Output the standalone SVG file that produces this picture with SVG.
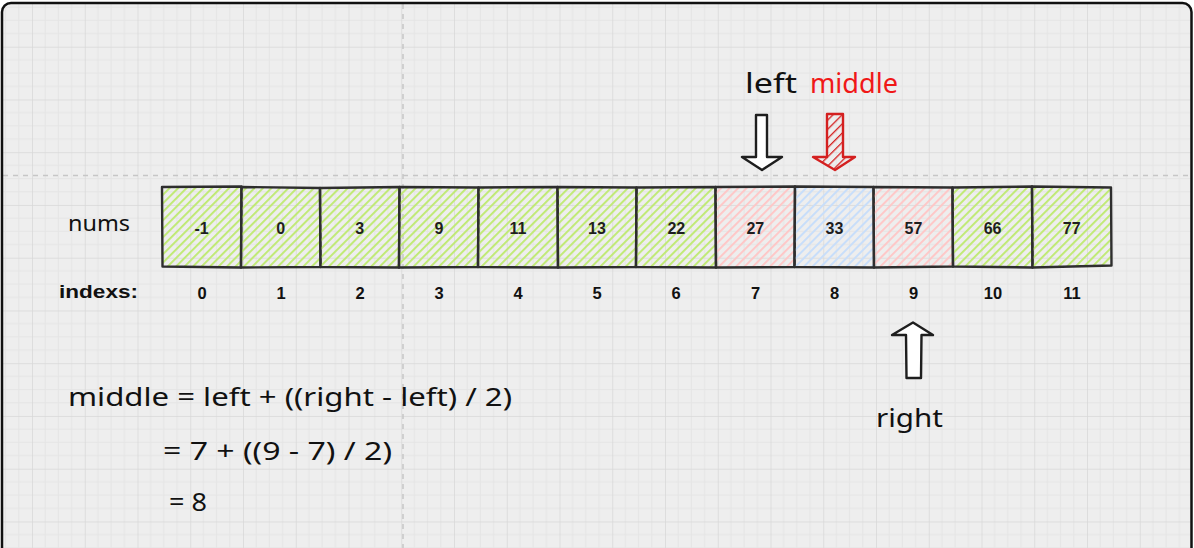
<svg xmlns="http://www.w3.org/2000/svg" width="1194" height="548" viewBox="0 0 1194 548">
<defs>
<pattern id="grid" patternUnits="userSpaceOnUse" x="32" y="46.7" width="52.75" height="52.75">
<rect width="52.75" height="52.75" fill="#eeeeee"/>
<g stroke="#e5e5e5" stroke-width="1">
<line x1="13.19" y1="0" x2="13.19" y2="52.75"/>
<line x1="26.37" y1="0" x2="26.37" y2="52.75"/>
<line x1="39.56" y1="0" x2="39.56" y2="52.75"/>
<line x1="0" y1="13.19" x2="52.75" y2="13.19"/>
<line x1="0" y1="26.37" x2="52.75" y2="26.37"/>
<line x1="0" y1="39.56" x2="52.75" y2="39.56"/>
</g>
<g stroke="#d8d8d8" stroke-width="1.5">
<line x1="0" y1="0" x2="0" y2="52.75"/>
<line x1="0" y1="0" x2="52.75" y2="0"/>
</g>
</pattern>
<pattern id="hGreen" patternUnits="userSpaceOnUse" width="6" height="6" patternTransform="rotate(45)">
<line x1="0" y1="0" x2="0" y2="6" stroke="#bfea72" stroke-width="3.8"/>
</pattern>
<pattern id="hPink" patternUnits="userSpaceOnUse" width="6" height="6" patternTransform="rotate(45)">
<line x1="0" y1="0" x2="0" y2="6" stroke="#ffc6c6" stroke-width="3.8"/>
</pattern>
<pattern id="hBlue" patternUnits="userSpaceOnUse" width="6" height="6" patternTransform="rotate(45)">
<line x1="0" y1="0" x2="0" y2="6" stroke="#c8defa" stroke-width="4"/>
</pattern>
<pattern id="hRed" patternUnits="userSpaceOnUse" width="6.5" height="6.5" patternTransform="rotate(45)">
<line x1="0" y1="0" x2="0" y2="6.5" stroke="#d42020" stroke-width="2.6"/>
</pattern>
</defs>
<style>
.cell{stroke:#2e2e2e;stroke-width:2.4;stroke-linejoin:round}
.g{fill:url(#hGreen)}
.p{fill:url(#hPink)}
.b{fill:url(#hBlue)}
.val{font-family:"Liberation Sans",Arial,sans-serif;font-size:16px;font-weight:bold;fill:#1e1e1e;text-anchor:middle}
.idx{font-family:"Liberation Sans",Arial,sans-serif;font-size:16.5px;font-weight:bold;fill:#111;text-anchor:middle}
.hand{font-family:"Noto Sans","DejaVu Sans",sans-serif;fill:#111}
.guide{stroke:#c6c6c6;stroke-width:1.5;stroke-dasharray:5 5;fill:none}
</style>
<rect x="0" y="0" width="1194" height="548" fill="#ffffff"/>
<rect x="2" y="3" width="1189.5" height="570" rx="9" fill="url(#grid)"/>
<line class="guide" x1="403" y1="4" x2="403" y2="548"/>
<line class="guide" x1="3" y1="175.5" x2="1191" y2="175.5"/>
<rect x="2" y="3" width="1189.5" height="570" rx="9" fill="none" stroke="#111" stroke-width="2.5"/>

<g id="labels">
<text class="hand" x="68" y="231" font-size="21" textLength="62" lengthAdjust="spacingAndGlyphs">nums</text>
<text x="59" y="298" font-family="'Liberation Sans',Arial,sans-serif" font-size="18" font-weight="bold" fill="#111" textLength="79" lengthAdjust="spacingAndGlyphs">indexs:</text>
</g>

<g id="cells">
<g id="cell0"><path class="cell g" d="M162,187 L241.5,186.5 L241,267.5 L162.5,266.5 Z"/><text class="val" x="201.5" y="233.5">-1</text></g>
<g id="cell1"><path class="cell g" d="M241.5,187 L320,188 L320.5,267 L241,267.5 Z"/><text class="val" x="280.7" y="233.5">0</text></g>
<g id="cell2"><path class="cell g" d="M320,188 L399.5,187 L399,267.5 L320.5,267 Z"/><text class="val" x="359.8" y="233.5">3</text></g>
<g id="cell3"><path class="cell g" d="M399.5,187 L478.5,187.5 L478,267 L399,267.5 Z"/><text class="val" x="438.9" y="233.5">9</text></g>
<g id="cell4"><path class="cell g" d="M478.5,187.5 L557.5,187 L558,267.5 L478,267 Z"/><text class="val" x="518" y="233.5">11</text></g>
<g id="cell5"><path class="cell g" d="M557.5,187 L636.5,187.5 L636,267 L558,267.5 Z"/><text class="val" x="597" y="233.5">13</text></g>
<g id="cell6"><path class="cell g" d="M636.5,187.5 L715.5,187 L716,267.5 L636,267 Z"/><text class="val" x="676.3" y="233.5">22</text></g>
<g id="cell7"><path class="cell p" d="M715.5,187 L795,186.5 L794.5,267 L716,267.5 Z"/><text class="val" x="755.3" y="233.5">27</text></g>
<g id="cell8"><path class="cell b" d="M795,186.5 L873.5,187 L874,267.5 L794.5,267 Z"/><text class="val" x="834.4" y="233.5">33</text></g>
<g id="cell9"><path class="cell p" d="M873.5,187 L952.5,187.5 L953,266.5 L874,267.5 Z"/><text class="val" x="913.5" y="233.5">57</text></g>
<g id="cell10"><path class="cell g" d="M952.5,187.5 L1032,186.5 L1032.5,267.5 L953,266.5 Z"/><text class="val" x="992.6" y="233.5">66</text></g>
<g id="cell11"><path class="cell g" d="M1032,186.5 L1111,187.5 L1111.5,265.5 L1032.5,267.5 Z"/><text class="val" x="1071.7" y="233.5">77</text></g>
</g>

<g id="indexes">
<text class="idx" x="202" y="298.5">0</text>
<text class="idx" x="281" y="298.5">1</text>
<text class="idx" x="360" y="298.5">2</text>
<text class="idx" x="439" y="298.5">3</text>
<text class="idx" x="518" y="298.5">4</text>
<text class="idx" x="597" y="298.5">5</text>
<text class="idx" x="676" y="298.5">6</text>
<text class="idx" x="755.5" y="298.5">7</text>
<text class="idx" x="834.5" y="298.5">8</text>
<text class="idx" x="913.5" y="298.5">9</text>
<text class="idx" x="993" y="298.5">10</text>
<text class="idx" x="1072" y="298.5">11</text>
</g>

<g id="left-pointer">
<text class="hand" x="745" y="93" font-size="28" textLength="52" lengthAdjust="spacingAndGlyphs">left</text>
<path d="M756,115 L767,115 L767,157 L782,157 L762,170 L742,157 L756,157 Z" fill="#ffffff" stroke="#1e1e1e" stroke-width="2.4" stroke-linejoin="round"/>
</g>
<g id="middle-pointer">
<text class="hand" x="810" y="93" font-size="28" style="fill:#f01818" textLength="88" lengthAdjust="spacingAndGlyphs">middle</text>
<path d="M827,114 L843,114 L843,157 L855,157 L835,170 L813,157 L827,157 Z" fill="url(#hRed)" stroke="#d42020" stroke-width="2.4" stroke-linejoin="round"/>
</g>
<g id="right-pointer">
<path d="M913,322.5 L933,335 L921.5,335 L921,378 L906.5,378 L906,335 L892,335 Z" fill="#ffffff" stroke="#1e1e1e" stroke-width="2.4" stroke-linejoin="round"/>
<text class="hand" x="876" y="427" font-size="26" textLength="67" lengthAdjust="spacingAndGlyphs">right</text>
</g>

<g id="formula">
<text class="hand" x="68" y="406" font-size="25" textLength="444" lengthAdjust="spacingAndGlyphs">middle = left + ((right - left) / 2)</text>
<text class="hand" x="163" y="460" font-size="25" textLength="229" lengthAdjust="spacingAndGlyphs">= 7 + ((9 - 7) / 2)</text>
<text class="hand" x="169" y="511" font-size="25" textLength="38" lengthAdjust="spacingAndGlyphs">= 8</text>
</g>
<g id="connectors"></g>
</svg>
